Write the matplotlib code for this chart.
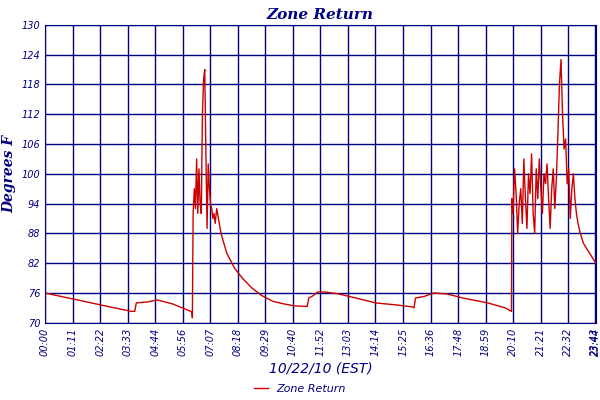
import matplotlib
matplotlib.use("Agg")
import matplotlib.pyplot as plt

# time in minutes, temperature in F
times = [0, 60, 120, 180, 224, 232, 236, 265, 290, 330, 380, 381, 383,
         386, 389, 392, 395, 398, 401, 404, 407, 410, 413, 416, 419, 422, 425, 428, 431, 434, 437, 440, 444,
         455, 470, 490, 510, 535, 560, 590, 618, 645, 676, 678, 682, 692, 705, 725, 760, 803, 855, 908, 950, 954, 958, 980, 1005, 1040, 1080, 1145, 1190, 1206,
         1207, 1210, 1214, 1218, 1222, 1226, 1230, 1234, 1238, 1242, 1246, 1250, 1254, 1258, 1262, 1266, 1270, 1274,
         1278, 1282, 1286, 1290, 1294, 1298, 1302, 1306, 1310, 1314, 1318, 1322, 1326, 1330, 1334, 1338, 1342,
         1346, 1350, 1354, 1358, 1362, 1366, 1370, 1374, 1378, 1384, 1392, 1400, 1408, 1416, 1424]
temps = [76, 75, 74, 73, 72.3, 72.3, 74, 74.2, 74.6, 73.8, 72.2, 71, 92,
         97, 93, 103, 92, 101, 94, 92, 112, 119, 121, 104, 89, 102, 97, 94, 93, 91, 92, 90, 93,
         88, 84, 81, 79, 77, 75.5, 74.3, 73.8, 73.4, 73.3, 73.3, 75, 75.4, 76.2, 76.2, 75.8, 75, 74, 73.6, 73.2, 73.0, 75, 75.3, 76, 75.8, 75, 74, 73, 72.3,
         95, 92, 101, 96, 88, 94, 97, 90, 103, 95, 89, 100, 96, 104, 92, 88, 101, 95,
         103, 97, 92, 100, 98, 102, 95, 89, 97, 101, 93, 99, 108, 118, 123, 112, 105,
         107, 98, 101, 91, 97, 100, 95, 92, 90, 88, 86, 85, 84, 83, 82]

tick_pos = [i * 1424 / 20 for i in range(20)] + [1423, 1424]
tick_lab = ["%02d:%02d" % (int(p) // 60, int(p) % 60) for p in tick_pos]

navy = "#000080"
fig = plt.figure(figsize=(6, 4), dpi=100)
ax = fig.add_axes([0.075, 0.193, 0.918, 0.745])
ax.plot(times, temps, color="#cc0000", lw=1, label="Zone Return")
ax.set_xlim(0, 1424)
ax.set_ylim(70, 130)
ax.set_yticks(range(70, 131, 6))
ax.set_xticks(tick_pos)
ax.set_xticklabels(tick_lab, rotation=90, fontsize=7, style="italic", color=navy)
ax.tick_params(axis="y", labelsize=7, colors=navy, length=0)
ax.tick_params(axis="x", length=0)
for t in ax.get_yticklabels():
    t.set_style("italic")
ax.grid(True, color=navy, lw=1)
for s in ax.spines.values():
    s.set_color(navy)
ax.set_title("Zone Return", fontsize=11, style="italic", fontweight="bold", color=navy, family="DejaVu Serif", pad=4)
ax.set_ylabel("Degrees F", fontsize=10, style="italic", fontweight="bold", color=navy, family="DejaVu Serif")
ax.set_xlabel("10/22/10 (EST)", fontsize=10, style="italic", color=navy)
leg = fig.legend(loc="lower center", bbox_to_anchor=(0.5, -0.01), frameon=False, fontsize=8, handlelength=1.2)
for t in leg.get_texts():
    t.set_color(navy); t.set_style("italic")
fig.savefig("out.png")
